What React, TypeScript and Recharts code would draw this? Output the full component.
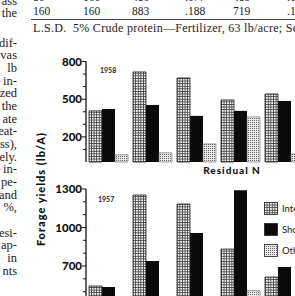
import { BarChart, Bar, XAxis, YAxis, Legend } from 'recharts';

// Residual N levels (groups along the x axis)
const residualN = ['0', '40', '80', '160', '320'];

// 1958 forage yields, lb/A
const intermediate1958 = [407, 717, 669, 494, 542];
const short1958 = [422, 454, 367, 407, 486];
const other1958 = [57, 73, 144, 359, 65];

// 1957 forage yields, lb/A
const intermediate1957 = [544, 1253, 1183, 832, 614];
const short1957 = [536, 739, 957, 1290, 692];
const other1957 = [70, 95, 170, 507, 110];

const ticks1958 = [100, 200, 300, 400, 500, 600, 700, 800];
const labels1958 = [200, 500, 800];
const ticks1957 = [100, 200, 300, 400, 500, 600, 700, 800, 900, 1000, 1100, 1200, 1300];
const labels1957 = [100, 400, 700, 1000, 1300];

const seriesNames = ['Intermediate grasses', 'Short grasses', 'Other species'];

// table rows above the figure
const tableRows = [
  ['80', '160', '486', '.177', '485', '.1'],
  ['160', '160', '883', '.188', '719', '.1'],
];
const lsdNote = 'L.S.D.  5% Crude protein\u2014Fertilizer, 63 lb/acre; Se';

// right ends of the text column beside the figure
const columnTop = ['ass', 'the'];
const columnMiddle = ['dif-', 'vas', 'lb', 'in-', 'ized', 'the', 'ate', 'eat-', 'ss),', 'ely.', 'in-', 'pe-', 'and', '%,'];
const columnBottom = ['esi-', 'ap-', 'in', 'nts'];

const data1958 = residualN.map((n, i) => ({
  n,
  intermediate: intermediate1958[i],
  short: short1958[i],
  other: other1958[i],
}));

const data1957 = residualN.map((n, i) => ({
  n,
  intermediate: intermediate1957[i],
  short: short1957[i],
  other: other1957[i],
}));

const tickFont = 'Lato, "DejaVu Sans", sans-serif';
const serif = '"Liberation Serif", "DejaVu Serif", serif';

function YTick(props: any) {
  const { x, y, payload, labels } = props;
  const major = labels.includes(payload.value);
  return (
    <g>
      <line x1={x - (major ? 4 : 3)} x2={x} y1={y} y2={y} stroke="#111" strokeWidth={1} />
      {major && (
        <text
          x={x - 4}
          y={y}
          dy="0.36em"
          textAnchor="end"
          fontFamily={tickFont}
          fontWeight={900}
          fontSize={11.5}
          fill="#111"
        >
          {payload.value}
        </text>
      )}
    </g>
  );
}

// keep legend entries in series order
const renderLegend = (props: any) => {
  const items = [...(props.payload || [])].sort(
    (a: any, b: any) => seriesNames.indexOf(a.value) - seriesNames.indexOf(b.value)
  );
  return (
    <div>
      {items.map((entry: any) => (
        <div key={entry.value} style={{ display: 'flex', alignItems: 'center', height: 21, whiteSpace: 'nowrap' }}>
          <svg width={14} height={13}>
            <rect x={0.5} y={0.5} width={13} height={12} fill={entry.color} stroke="#222" strokeWidth={0.8} />
          </svg>
          <span style={{ marginLeft: 4, fontFamily: tickFont, fontSize: 9.5, color: '#222' }}>{entry.value}</span>
        </div>
      ))}
    </div>
  );
};

function Series() {
  return [
    <Bar key="i" dataKey="intermediate" name={seriesNames[0]} fill="url(#grid)" stroke="#222" strokeWidth={0.8} barSize={13} isAnimationActive={false} />,
    <Bar key="s" dataKey="short" name={seriesNames[1]} fill="#0b0b0b" barSize={13} isAnimationActive={false} />,
    <Bar key="o" dataKey="other" name={seriesNames[2]} fill="url(#dots)" stroke="#666" strokeWidth={0.6} barSize={13} isAnimationActive={false} />,
  ];
}

export default function App() {
  const colStyle = (top: number): React.CSSProperties => ({
    position: 'absolute',
    right: 278,
    top: top - 6.5,
    lineHeight: '13px',
    fontFamily: serif,
    fontSize: 12.5,
    color: '#222',
    whiteSpace: 'nowrap',
  });

  return (
    <div style={{ position: 'fixed', left: 0, top: 0, width: 295, height: 296, overflow: 'hidden', background: '#fff' }}>
      <svg width={0} height={0} style={{ position: 'absolute' }}>
        <defs>
          <pattern id="grid" width={2.6} height={2.6} patternUnits="userSpaceOnUse">
            <rect width={2.6} height={2.6} fill="#fff" />
            <rect width={2.6} height={0.9} fill="#444" />
            <rect width={0.9} height={2.6} fill="#444" />
          </pattern>
          <pattern id="dots" width={2} height={2} patternUnits="userSpaceOnUse">
            <rect width={2} height={2} fill="#e8e8e8" />
            <rect width={1} height={1} fill="#666" />
          </pattern>
        </defs>
      </svg>

      {/* table rows */}
      {tableRows.map((row, r) =>
        row.map((cell, c) => (
          <div
            key={`${r}-${c}`}
            style={{
              position: 'absolute',
              left: [33, 83, 132, 185, 233, 287][c],
              top: -9 + r * 14,
              lineHeight: '12px',
              fontFamily: serif,
              fontSize: 11.5,
              color: '#222',
            }}
          >
            {cell}
          </div>
        ))
      )}
      <div style={{ position: 'absolute', left: 31, top: 19, width: 270, height: 1, background: '#444' }} />
      <svg width={320} height={40} style={{ position: 'absolute', left: 0, top: 0 }}>
        <text
          x={33}
          y={32}
          fontFamily={serif}
          fontSize={12}
          fill="#222"
          textLength={265}
          lengthAdjust="spacing"
          style={{ whiteSpace: 'pre' }}
        >
          {lsdNote}
        </text>
      </svg>

      {/* text column */}
      {columnTop.map((t, i) => (
        <div key={`t${i}`} style={colStyle(1 + i * 12.6)}>{t}</div>
      ))}
      {columnMiddle.map((t, i) => (
        <div key={`m${i}`} style={colStyle(43 + i * 12.67)}>{t}</div>
      ))}
      {columnBottom.map((t, i) => (
        <div key={`b${i}`} style={colStyle(233 + i * 12.67)}>{t}</div>
      ))}

      {/* shared y axis title */}
      <div
        style={{
          position: 'absolute',
          left: 40,
          top: 189,
          transform: 'translate(-50%, -50%) rotate(-90deg)',
          whiteSpace: 'nowrap',
          fontFamily: tickFont,
          fontWeight: 900,
          fontSize: 11,
          letterSpacing: 1,
          color: '#111',
        }}
      >
        Forage yields (lb/A)
      </div>

      <div style={{ position: 'absolute', left: 0, top: 0 }}>
        <BarChart width={320} height={185} data={data1958} margin={{ top: 61.5, right: 14, bottom: 3, left: 0 }} barGap={0}>
          <XAxis
            dataKey="n"
            tick={false}
            axisLine={false}
            tickLine={false}
            height={20}
            label={{
              value: 'Residual N',
              position: 'insideTop',
              dx: 36,
              fontFamily: tickFont,
              fontWeight: 900,
              fontSize: 10,
              letterSpacing: 1,
              fill: '#111',
            }}
          />
          <YAxis
            width={86}
            domain={[0, 800]}
            ticks={ticks1958}
            interval={0}
            tickSize={0}
            tickMargin={0}
            tickLine={false}
            axisLine={{ stroke: '#111', strokeWidth: 1.3 }}
            tick={<YTick labels={labels1958} />}
          />
          {Series()}
        </BarChart>
      </div>

      <div style={{ position: 'absolute', left: 0, top: 170 }}>
        <BarChart width={320} height={200} data={data1957} margin={{ top: 19, right: 14, bottom: 14.2, left: 0 }} barGap={0}>
          <XAxis dataKey="n" hide />
          <YAxis
            width={86}
            domain={[0, 1300]}
            ticks={ticks1957}
            interval={0}
            tickSize={0}
            tickMargin={0}
            tickLine={false}
            axisLine={{ stroke: '#111', strokeWidth: 1.3 }}
            tick={<YTick labels={labels1957} />}
          />
          <Legend
            layout="vertical"
            align="center"
            verticalAlign="middle"
            wrapperStyle={{ left: 264, top: 28, width: 200 }}
            content={renderLegend}
          />
          {Series()}
        </BarChart>
      </div>

      {/* year labels */}
      <div style={{ position: 'absolute', left: 100, top: 66, fontFamily: tickFont, fontWeight: 700, fontSize: 7, color: '#222' }}>1958</div>
      <div style={{ position: 'absolute', left: 98, top: 195, fontFamily: tickFont, fontWeight: 700, fontSize: 7, color: '#222' }}>1957</div>
    </div>
  );
}
